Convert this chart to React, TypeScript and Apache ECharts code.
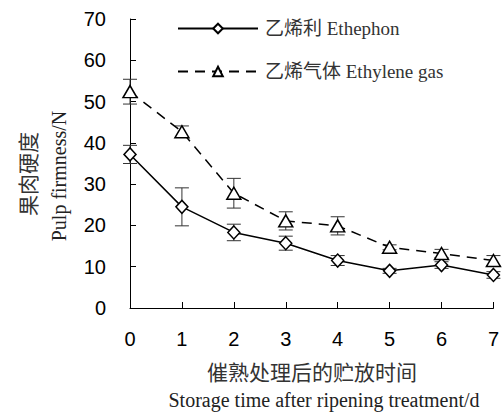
import React, { useEffect, useRef } from "react";
import * as echarts from "echarts";

const days = [0, 1, 2, 3, 4, 5, 6, 7];
const ethephon = [37.2, 24.5, 18.3, 15.7, 11.5, 9.0, 10.4, 8.0];
const ethephonErr = [2.2, 4.6, 2.0, 1.7, 1.2, 0.6, 0.8, 0.8];
const gas = [52.4, 42.7, 27.8, 21.1, 19.9, 14.7, 13.2, 11.5];
const gasErr = [3.0, 1.4, 3.6, 2.2, 2.2, 0.6, 1.0, 1.2];
const seriesNames = ["乙烯利 Ethephon", "乙烯气体 Ethylene gas"];
const yTitle = ["果肉硬度", "Pulp firmness/N"];
const xTitle = ["催熟处理后的贮放时间", "Storage time after ripening treatment/d"];

const SERIF = "'Liberation Serif', 'Times New Roman', 'Noto Sans CJK SC', serif";
const SANS = "'Liberation Sans', Arial, sans-serif";

function errData(vals: number[], errs: number[]) {
  return days.map((d, i) => [d, vals[i] - errs[i], vals[i] + errs[i]]);
}

function renderErr(params: any, api: any) {
  const x = api.value(0);
  const p1 = api.coord([x, api.value(2)]);
  const p2 = api.coord([x, api.value(1)]);
  const w = 7;
  const style = { stroke: "#333", lineWidth: 1 };
  return {
    type: "group",
    children: [
      { type: "line", shape: { x1: p1[0], y1: p1[1], x2: p2[0], y2: p2[1] }, style },
      { type: "line", shape: { x1: p1[0] - w, y1: p1[1], x2: p1[0] + w, y2: p1[1] }, style },
      { type: "line", shape: { x1: p2[0] - w, y1: p2[1], x2: p2[0] + w, y2: p2[1] }, style },
    ],
  };
}

export default function App() {
  const ref = useRef<HTMLDivElement>(null);
  useEffect(() => {
    document.body.style.margin = "0";
    if (!ref.current) return;
    const chart = echarts.init(ref.current, null, { renderer: "svg" });
    chart.setOption({
      animation: false,
      backgroundColor: "#fff",
      grid: { left: 130, right: 8, top: 19, bottom: 108 },
      legend: {
        orient: "vertical",
        left: 177,
        top: 19,
        padding: 0,
        itemWidth: 80,
        itemHeight: 12,
        itemGap: 24,
        data: seriesNames,
        textStyle: { fontFamily: SERIF, fontSize: 19, color: "#333", padding: [0, 0, 0, 2] },
      },
      xAxis: {
        type: "value",
        min: 0,
        max: 7,
        interval: 1,
        axisLine: { lineStyle: { color: "#000", width: 1 } },
        axisTick: { inside: true, length: 6, lineStyle: { color: "#000" } },
        axisLabel: { fontFamily: SANS, fontSize: 20, color: "#000", margin: 21 },
        splitLine: { show: false },
      },
      yAxis: {
        type: "value",
        min: 0,
        max: 70,
        interval: 10,
        axisLine: { show: true, lineStyle: { color: "#000", width: 1 } },
        axisTick: { show: true, inside: true, length: 6, lineStyle: { color: "#000" } },
        axisLabel: { fontFamily: SANS, fontSize: 20, color: "#000", margin: 24 },
        splitLine: { show: false },
      },
      graphic: [
        {
          type: "text",
          x: 29,
          y: 174,
          rotation: Math.PI / 2,
          style: { text: yTitle[0], font: `21px ${SERIF}`, fill: "#333", textAlign: "center", textVerticalAlign: "middle" },
        },
        {
          type: "text",
          x: 59,
          y: 176,
          rotation: Math.PI / 2,
          style: { text: yTitle[1], font: `20px ${SERIF}`, fill: "#222", textAlign: "center", textVerticalAlign: "middle" },
        },
        {
          type: "text",
          x: 312,
          y: 373,
          style: { text: xTitle[0], font: `21px ${SERIF}`, fill: "#333", textAlign: "center", textVerticalAlign: "middle" },
        },
        {
          type: "text",
          x: 324,
          y: 400,
          style: { text: xTitle[1], font: `20px ${SERIF}`, fill: "#222", textAlign: "center", textVerticalAlign: "middle" },
        },
      ],
      series: [
        {
          type: "custom",
          renderItem: renderErr,
          data: errData(ethephon, ethephonErr),
          z: 1,
          silent: true,
        },
        {
          type: "custom",
          renderItem: renderErr,
          data: errData(gas, gasErr),
          z: 1,
          silent: true,
        },
        {
          name: seriesNames[0],
          type: "line",
          data: days.map((d, i) => [d, ethephon[i]]),
          symbol: "diamond",
          symbolSize: [12, 13],
          lineStyle: { color: "#000", width: 1.5 },
          itemStyle: { color: "#fff", borderColor: "#000", borderWidth: 1.5 },
          z: 3,
        },
        {
          name: seriesNames[1],
          type: "line",
          data: days.map((d, i) => [d, gas[i]]),
          symbol: "triangle",
          symbolSize: [14, 12],
          lineStyle: { color: "#000", width: 1.5, type: [10, 7] },
          itemStyle: { color: "#fff", borderColor: "#000", borderWidth: 1.5 },
          z: 3,
        },
      ],
    });
    return () => chart.dispose();
  }, []);
  return <div ref={ref} style={{ width: 502, height: 416 }} />;
}
